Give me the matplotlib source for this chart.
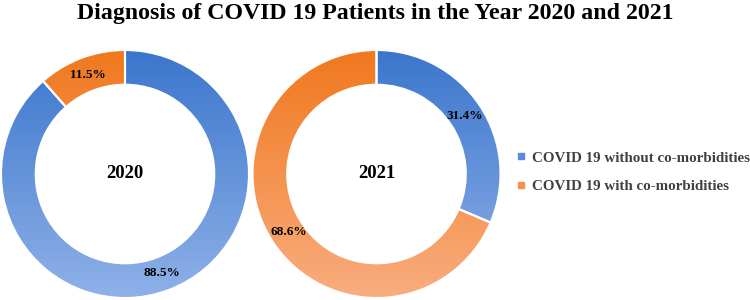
import numpy as np
import matplotlib.pyplot as plt
from matplotlib.colors import LinearSegmentedColormap
from matplotlib.lines import Line2D

plt.rcParams['font.family'] = ['Liberation Serif', 'DejaVu Serif']

# data
years = ['2020', '2021']
series = ['COVID 19 without co-morbidities', 'COVID 19 with co-morbidities']
without_cm = [88.5, 31.4]
with_cm = [11.5, 68.6]

# gradient colours, top -> bottom
blue_grad = ['#3b76cc', '#8fb1e8']
orange_grad = ['#f0781e', '#f9ad7e']

fig = plt.figure(figsize=(7.5, 3), dpi=100)
W, H = 750, 300

# donut boxes in pixels: (left, top, size)
boxes = [(1, 50, 248), (252.5, 50, 248)]

grad = np.linspace(1, 0, 256).reshape(-1, 1)

for i, yr in enumerate(years):
    l, t, s = boxes[i]
    ax = fig.add_axes([l / W, (H - t - s) / H, s / W, s / H])
    ax.set_xlim(-1, 1)
    ax.set_ylim(-1, 1)
    ax.axis('off')
    vals = [without_cm[i], with_cm[i]]
    wedges, _ = ax.pie(vals, radius=1, startangle=90, counterclock=False,
                       wedgeprops=dict(width=0.28, edgecolor='white', linewidth=1.5))
    for w, cols in zip(wedges, [blue_grad, orange_grad]):
        cmap = LinearSegmentedColormap.from_list('g', cols[::-1])
        im = ax.imshow(grad, cmap=cmap, extent=(-1, 1, -1, 1), aspect='auto',
                       origin='upper', zorder=1, vmin=0, vmax=1)
        im.set_clip_path(w)
        w.set_facecolor('none')
        w.set_zorder(2)
    # labels on the ring
    ang0 = 90
    for v in vals:
        mid = np.deg2rad(ang0 - v * 3.6 / 2)
        ax.text(0.85 * np.cos(mid), 0.85 * np.sin(mid), f'{v}%', ha='center', va='center',
                fontsize=9.5, fontweight='bold', color='black', zorder=3)
        ang0 -= v * 3.6
    ax.text(0, 0, yr, ha='center', va='center', fontsize=13.5, fontweight='bold', zorder=3)
    ax.set_xlim(-1, 1)
    ax.set_ylim(-1, 1)

fig.text(0.5, 1 - 18.5 / H, 'Diagnosis of COVID 19 Patients in the Year 2020 and 2021',
         ha='center', va='baseline', fontsize=17.2, fontweight='bold')

handles = [Line2D([], [], marker='s', linestyle='none', markersize=4, color='#5b8ad6'),
           Line2D([], [], marker='s', linestyle='none', markersize=4, color='#f59050')]
fig.legend(handles, series, loc='center left', bbox_to_anchor=(503 / W, 1 - 172 / H),
           frameon=False, handlelength=0.6, handletextpad=0.4, labelspacing=1.0,
           prop=dict(family='Liberation Serif', weight='bold', size=10.8), labelcolor='#404040')

fig.savefig('out.png', dpi=100, facecolor='white')
